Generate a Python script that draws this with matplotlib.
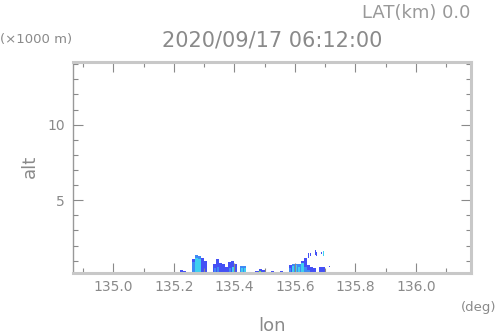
import matplotlib
matplotlib.use("Agg")
import matplotlib.pyplot as plt
from matplotlib.colors import ListedColormap, BoundaryNorm
from matplotlib.ticker import MultipleLocator
import numpy as np

# ---- data ----
lon_bins = [135.225, 135.235, 135.265, 135.275, 135.285, 135.295, 135.305,
            135.335, 135.345, 135.355, 135.365, 135.375, 135.385, 135.395, 135.405,
            135.425, 135.435, 135.475, 135.485, 135.495, 135.505, 135.525, 135.535,
            135.555, 135.585, 135.595, 135.605, 135.615, 135.625, 135.635, 135.645,
            135.655, 135.665, 135.685, 135.695]
col_top = [0.35, 0.30, 1.10, 1.35, 1.30, 1.15, 1.00,
           0.80, 1.10, 0.85, 0.75, 0.60, 0.90, 0.95, 0.80,
           0.65, 0.65, 0.30, 0.45, 0.40, 0.20, 0.30, 0.20,
           0.30, 0.70, 0.80, 0.80, 0.75, 1.00, 1.20, 0.70,
           0.60, 0.50, 0.60, 0.60]
col_val = [0, 0, 0, 1, 1, 0, 0,
           0, 0, 0, 0, 0, 0, 0, 0,
           1, 1, 0, 0, 0, 0, 0, 0,
           0, 0, 1, 1, 1, 0, 0, 0,
           0, 0, 0, 0]
core_top = [0, 0, 0.9, 1.15, 1.1, 0, 0,
            0.5, 0.6, 0, 0, 0, 0.5, 0.6, 0,
            0.5, 0.5, 0, 0.30, 0.25, 0, 0, 0,
            0, 0.5, 0.65, 0.7, 0.6, 0.85, 0.6, 0.4,
            0, 0, 0, 0]
core_val = [0, 0, 1, 2, 2, 0, 0,
            1, 1, 0, 0, 0, 1, 2, 0,
            2, 2, 0, 4, 3, 0, 0, 0,
            0, 1, 2, 2, 2, 2, 1, 1,
            0, 0, 0, 0]

frag_lon = [135.645, 135.652, 135.668, 135.672, 135.688, 135.695, 135.715]
frag_bottom = [1.20, 1.30, 1.40, 1.30, 1.45, 1.30, 0.55]
frag_top = [1.50, 1.50, 1.70, 1.55, 1.60, 1.65, 0.65]
frag_val = [0, 0, 0, 0, 0, 2, 0]

radar_colors = ['#4450f5', '#3f8af5', '#3fd0f0', '#40f0b0', '#70f040', '#e8f040']

title = "2020/09/17 06:12:00"
lat_label = "LAT(km) 0.0"

# ---- figure ----
fig = plt.figure(figsize=(4.98, 3.36), dpi=100)
ax = fig.add_axes([0.1472, 0.1875, 0.798, 0.628])

cmap = ListedColormap(radar_colors)
norm = BoundaryNorm(np.arange(-0.5, len(radar_colors) + 0.5, 1), cmap.N)

w = 0.0102
ax.bar(lon_bins, col_top, width=w, color=cmap(norm(col_val)), linewidth=0, zorder=1)
ax.bar(lon_bins, core_top, width=w * 0.7, color=cmap(norm(core_val)), linewidth=0, zorder=2)
ax.bar(frag_lon, np.array(frag_top) - np.array(frag_bottom), bottom=frag_bottom,
       width=0.004, color=cmap(norm(frag_val)), linewidth=0, zorder=2)

ax.set_xlim(134.868, 136.181)
ax.set_ylim(0.18, 14.15)

gray = '#8a8a8a'
light = '#c8c8c8'
ax.xaxis.set_minor_locator(MultipleLocator(0.1))
ax.yaxis.set_minor_locator(MultipleLocator(1))
ax.set_xticks([135.0, 135.2, 135.4, 135.6, 135.8, 136.0])
ax.set_xticklabels(['135.0', '135.2', '135.4', '135.6', '135.8', '136.0'])
ax.set_yticks([5, 10])
ax.set_yticklabels(['5', '10'])

ax.tick_params(which='both', direction='in', colors=gray, top=True, right=True,
               labelsize=10, labelcolor=gray, zorder=5)
ax.tick_params(which='major', length=7, width=0.8)
ax.tick_params(which='minor', length=3.5, width=0.8)
ax.tick_params(axis='x', pad=5)
ax.tick_params(axis='y', pad=6)

for s in ['top', 'right', 'bottom']:
    ax.spines[s].set_color(light)
    ax.spines[s].set_linewidth(2.2)
    ax.spines[s].set_zorder(6)
ax.spines['left'].set_color('#999999')
ax.spines['left'].set_linewidth(1.0)
ax.set_axisbelow(False)

fig.text(470 / 498, 1 - 13 / 336, lat_label, ha='right', va='center', fontsize=13, color='#999999')
fig.text(272 / 498, 1 - 40 / 336, title, ha='center', va='center', fontsize=15, color=gray)
fig.text(0.0, 1 - 40 / 336, "(\u00d71000 m)", ha='left', va='center', fontsize=9.5, color=gray)
fig.text(496 / 498, 1 - 307 / 336, "(deg)", ha='right', va='center', fontsize=9.5, color=gray)
fig.text(272 / 498, 1 - 326 / 336, "lon", ha='center', va='center', fontsize=13, color=gray)
fig.text(30 / 498, 1 - 166 / 336, "alt", ha='center', va='center', fontsize=13, color=gray, rotation=90)

fig.savefig("out.png", dpi=100)
